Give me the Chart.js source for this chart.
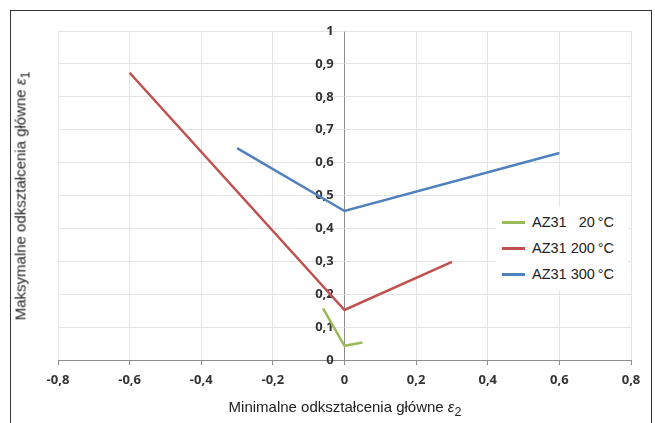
<!DOCTYPE html>
<html>
<head>
<meta charset="utf-8">
<script src="https://cdn.jsdelivr.net/npm/chart.js@4.4.0/dist/chart.umd.min.js"></script>
<style>
  body { margin: 0; background: #fff; }
  #wrap { position: relative; width: 655px; height: 423px; overflow: hidden; font-family: "Liberation Sans", Arial, sans-serif; }
  #frame { position: absolute; left: 10px; top: 10px; width: 642px; height: 420px; border: 1px solid #333; box-sizing: border-box; }
  #chart { position: absolute; left: 0; top: 0; }
  .title { position: absolute; font-size: 15px; color: #222; white-space: nowrap; }
  #xTitle { left: 345px; top: 398px; transform: translateX(-50%); }
  #yTitle { left: 22px; top: 196px; transform: translate(-50%, -50%) rotate(-90deg); }
  #legend { position: absolute; left: 496px; top: 206px; width: 132px; height: 84px; background: #fff; }
  .item { position: absolute; left: 6px; font-size: 14.5px; color: #222; white-space: pre; line-height: 17px; }
  .item span.swatch { display: inline-block; width: 23px; height: 3px; vertical-align: middle; margin-right: 7px; position: relative; top: -1px; }
</style>
</head>
<body>
<div id="wrap">
  <div id="frame"></div>
  <canvas id="chart" width="655" height="423"></canvas>
  <div id="xTitle" class="title">Minimalne odkształcenia główne <i>ε</i><sub>2</sub></div>
  <div id="yTitle" class="title">Maksymalne odkształcenia główne <i>ε</i><sub>1</sub></div>
  <div id="legend"></div>
</div>
<script>
// series values (x = minimal strain, y = maximal strain)
const seriesNames = ["AZ31   20\u2009°C", "AZ31 200\u2009°C", "AZ31 300\u2009°C"];
const seriesColors = ["#9bbb59", "#c0504d", "#4f81bd"];
const az31_20_x = [-0.06, 0, 0.05];
const az31_20_y = [0.157, 0.043, 0.053];
const az31_200_x = [-0.6, 0, 0.3];
const az31_200_y = [0.873, 0.152, 0.298];
const az31_300_x = [-0.3, 0, 0.6];
const az31_300_y = [0.644, 0.453, 0.629];
const xTicks = [-0.8, -0.6, -0.4, -0.2, 0, 0.2, 0.4, 0.6, 0.8];
const yTicks = [0, 0.1, 0.2, 0.3, 0.4, 0.5, 0.6, 0.7, 0.8, 0.9, 1];

function pts(xs, ys) {
  return xs.map((x, i) => ({ x: x, y: ys[i] }));
}
function fmt(v) {
  return String(Math.round(v * 10) / 10).replace('.', ',');
}

const seriesData = [pts(az31_20_x, az31_20_y), pts(az31_200_x, az31_200_y), pts(az31_300_x, az31_300_y)];

const datasets = seriesData.map((d, i) => ({
  label: seriesNames[i],
  data: d,
  showLine: true,
  borderColor: seriesColors[i],
  backgroundColor: seriesColors[i],
  borderWidth: 2.5,
  pointRadius: 0,
  tension: 0
}));

const tickFont = { family: "'Open Sans', sans-serif", size: 13, weight: 'bold' };
const axisGray = '#8c8c8c';
const gridGray = '#e4e4e4';

new Chart(document.getElementById('chart'), {
  type: 'scatter',
  data: { datasets: datasets },
  options: {
    responsive: false,
    animation: false,
    layout: { padding: { left: 58, right: 24, top: 31, bottom: 0 } },
    plugins: { legend: { display: false }, tooltip: { enabled: false } },
    scales: {
      x: {
        type: 'linear',
        position: 'bottom',
        min: xTicks[0],
        max: xTicks[xTicks.length - 1],
        afterBuildTicks: s => { s.ticks = xTicks.map(v => ({ value: v })); },
        afterFit: s => { s.height = 63; },
        // the vertical line at x = 0 serves as the value axis
        grid: { color: c => (c.tick && c.tick.value === 0 ? axisGray : gridGray), tickColor: axisGray, tickLength: 5 },
        border: { color: axisGray },
        ticks: { font: tickFont, color: '#333', padding: 7, maxRotation: 0, callback: v => fmt(v) }
      },
      y: {
        type: 'linear',
        // labels sit a little left of the x = 0 line
        position: { x: -0.03 },
        min: 0,
        max: 1,
        afterBuildTicks: s => { s.ticks = yTicks.map(v => ({ value: v })); },
        grid: { color: gridGray, drawTicks: false },
        border: { display: false },
        ticks: { font: tickFont, color: '#333', callback: v => fmt(v) }
      }
    }
  }
});

// legend box drawn from the same names and colours
const legend = document.getElementById('legend');
seriesNames.forEach((name, i) => {
  const el = document.createElement('div');
  el.className = 'item';
  el.style.top = (8 + i * 26) + 'px';
  const sw = document.createElement('span');
  sw.className = 'swatch';
  sw.style.background = seriesColors[i];
  el.appendChild(sw);
  el.appendChild(document.createTextNode(name));
  legend.appendChild(el);
});
</script>
</body>
</html>
